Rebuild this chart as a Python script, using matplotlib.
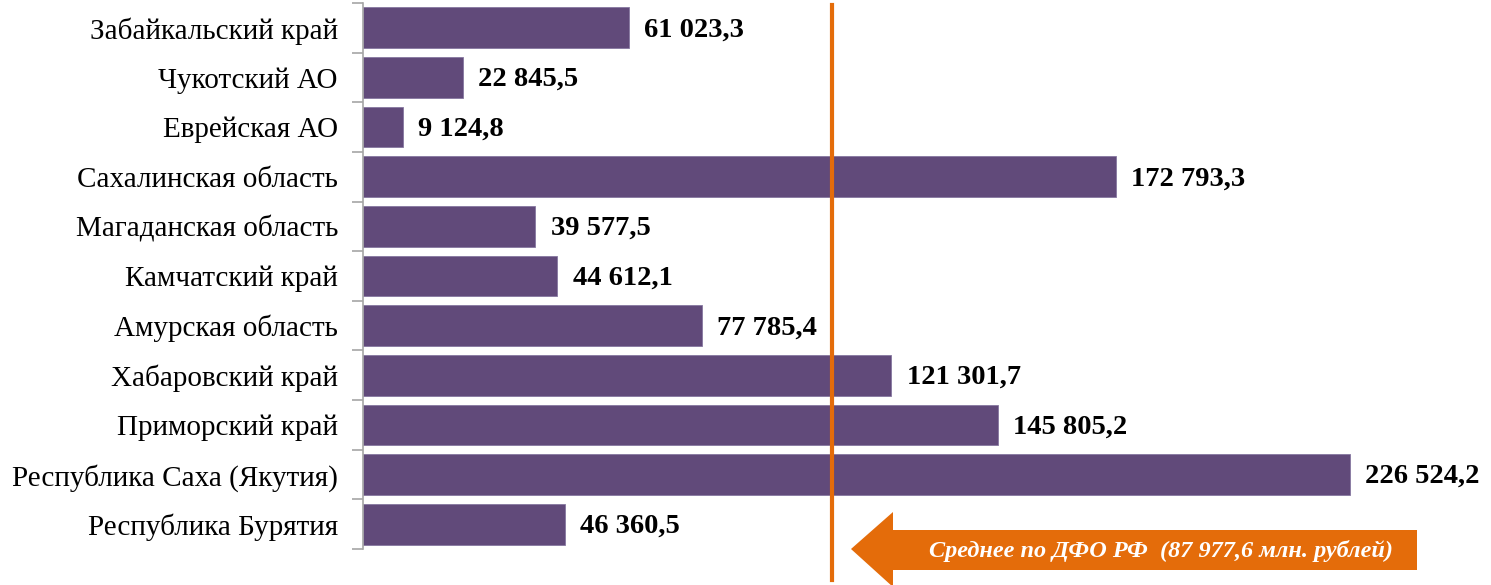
import matplotlib
matplotlib.use("Agg")
import matplotlib.pyplot as plt
from matplotlib.patches import Polygon
import numpy as np

regions = ["Забайкальский край", "Чукотский АО", "Еврейская АО", "Сахалинская область",
           "Магаданская область", "Камчатский край", "Амурская область", "Хабаровский край",
           "Приморский край", "Республика Саха (Якутия)", "Республика Бурятия"]
values = [61023.3, 22845.5, 9124.8, 172793.3, 39577.5, 44612.1, 77785.4, 121301.7,
          145805.2, 226524.2, 46360.5]
average_value = 87977.6
average_label = "Среднее по ДФО РФ  (87 977,6 млн. рублей)"

plt.rcParams['font.family'] = ['Liberation Serif', 'DejaVu Serif']

W, H = 1491, 585
fig = plt.figure(figsize=(W / 100, H / 100), dpi=100)
left_px, right_px, top_px, bot_px = 363, 1452, 3, 549
ax = fig.add_axes([left_px / W, 1 - bot_px / H, (right_px - left_px) / W, (bot_px - top_px) / H])

n = len(regions)
y = np.arange(n)[::-1]
bar_color = '#614a7a'
ax.barh(y, values, height=0.82, color=bar_color, edgecolor='#8677a0', linewidth=0.6)
ax.set_xlim(0, 250000)
ax.set_ylim(-0.5, n - 0.5)

def fmt(v):
    s = f"{v:,.1f}".replace(",", " ").replace(".", ",")
    return s

for yi, v in zip(y, values):
    ax.annotate(fmt(v), (v, yi), xytext=(11, -1.5), textcoords='offset points',
                ha='left', va='center', fontsize=20.5, fontweight='bold', color='black',
                annotation_clip=False)

ax.set_yticks(y)
ax.set_yticklabels(regions, fontsize=21)
ax.tick_params(axis='y', which='major', length=0, pad=18)
ax.set_yticks(np.arange(-0.5, n, 1.0), minor=True)
ax.tick_params(axis='y', which='minor', length=8, width=1.2, color='#a6a6a6')
ax.set_xticks([])
for s in ['top', 'right', 'bottom']:
    ax.spines[s].set_visible(False)
ax.spines['left'].set_color('#a6a6a6')
ax.spines['left'].set_linewidth(1.2)

orange = '#e46c0a'
# vertical average marker line (placed as in reference)
fig.add_artist(plt.Line2D([832 / W, 832 / W], [1 - 5 / H, 1 - 580 / H],
                          transform=fig.transFigure, color=orange, linewidth=3))

# arrow shape
pts_px = [(851, 549), (893, 512), (893, 530), (1417, 530), (1417, 570),
          (893, 570), (893, 587), (851, 549)]
pts = [(px / W, 1 - py / H) for px, py in pts_px]
fig.add_artist(Polygon(pts, closed=True, transform=fig.transFigure,
                       facecolor=orange, edgecolor='none'))
fig.text(1161 / W, 1 - 551 / H, average_label, ha='center', va='center',
         fontsize=17.5, fontstyle='italic', fontweight='bold', color='white')

fig.savefig("out.png", dpi=100)
